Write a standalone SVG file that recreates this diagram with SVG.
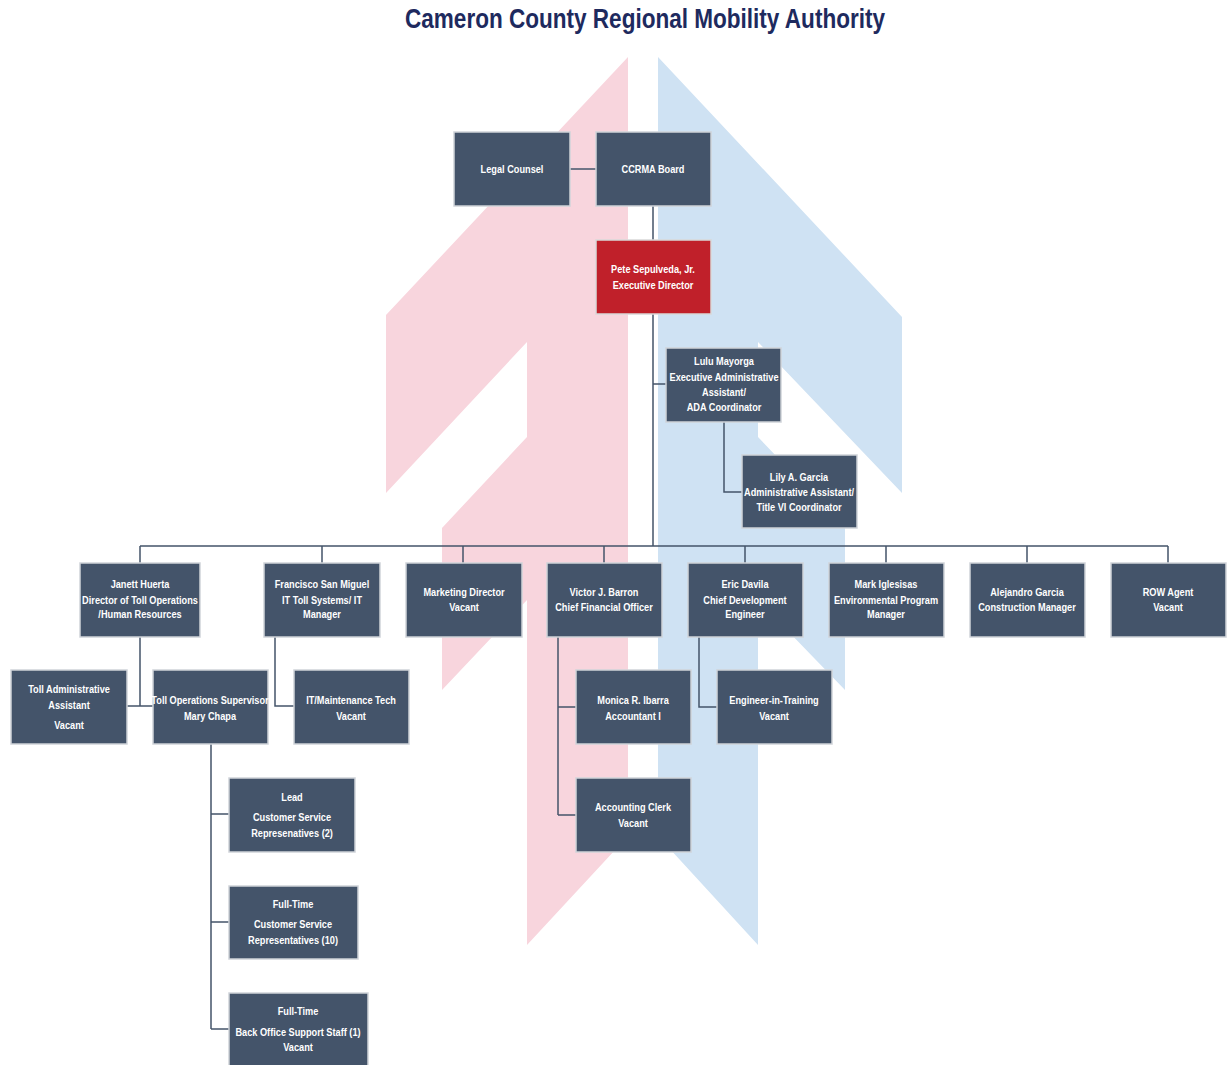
<svg xmlns="http://www.w3.org/2000/svg" width="1227" height="1065" viewBox="0 0 1227 1065">
<style>
.bx{fill:#44546a;stroke:#cfd3d9;stroke-width:1.5}
.red{fill:#c0202a;stroke:#d9d9d9;stroke-width:1.5}
.t{font-family:"Liberation Sans",Arial,sans-serif;font-weight:bold;font-size:11.5px;fill:#ffffff;text-anchor:middle}
.ln{fill:none;stroke:#44546a;stroke-width:1.5}
.title{font-family:"Liberation Sans",Arial,sans-serif;font-weight:bold;font-size:27px;fill:#1e2a5e;text-anchor:middle}
</style>
<rect width="1227" height="1065" fill="#ffffff"/>
<g id="background">
<polygon fill="#f8d5dd" points="628,57 386,315 386,493 527,342 527,437 442,528 442,690 527,600 527,945 628,836"/>
<polygon fill="#cfe2f3" points="658,57 902,317 902,493 758,342 758,437 845,528 845,690 758,600 758,945 658,836"/>
</g>
<text class="title" x="645" y="28" textLength="480" lengthAdjust="spacingAndGlyphs">Cameron County Regional Mobility Authority</text>
<g id="connectors">
<path class="ln" d="M570,169H596" stroke="#333"/>
<path class="ln" d="M653,206V240M653,314V546M653,384H666M724,422V492H742"/>
<path class="ln" d="M140,546H1168M140,546V563M322,546V563M463,546V563M604,546V563M745,546V563M886,546V563M1027,546V563M1168,546V563"/>
<path class="ln" d="M140,637V706M127,706H153"/>
<path class="ln" d="M275,637V706H294"/>
<path class="ln" d="M558,637V815M558,707H576M558,815H576"/>
<path class="ln" d="M699,637V707H717"/>
<path class="ln" d="M211,744V1029M211,814H229M211,922H229M211,1029H229"/>
</g>
<g id="legal"><rect class="bx" x="454" y="132" width="116" height="74"/><text class="t" transform="translate(512 0) scale(0.8 1)"><tspan x="0" y="173">Legal Counsel</tspan></text></g>
<g id="board"><rect class="bx" x="596" y="132" width="115" height="74"/><text class="t" transform="translate(653 0) scale(0.8 1)"><tspan x="0" y="173">CCRMA Board</tspan></text></g>
<g id="pete"><rect class="red" x="596" y="240" width="115" height="74"/><text class="t" transform="translate(653 0) scale(0.8 1)"><tspan x="0" y="273">Pete Sepulveda, Jr.</tspan><tspan x="0" y="289">Executive Director</tspan></text></g>
<g id="lulu"><rect class="bx" x="666" y="348" width="115" height="74"/><text class="t" transform="translate(724 0) scale(0.8 1)"><tspan x="0" y="365">Lulu Mayorga</tspan><tspan x="0" y="381">Executive Administrative</tspan><tspan x="0" y="396">Assistant/</tspan><tspan x="0" y="411">ADA Coordinator</tspan></text></g>
<g id="lily"><rect class="bx" x="742" y="455" width="115" height="73"/><text class="t" transform="translate(799 0) scale(0.8 1)"><tspan x="0" y="481">Lily A. Garcia</tspan><tspan x="0" y="496">Administrative Assistant/</tspan><tspan x="0" y="511">Title VI Coordinator</tspan></text></g>
<g id="janett"><rect class="bx" x="80" y="563" width="120" height="74"/><text class="t" transform="translate(140 0) scale(0.8 1)"><tspan x="0" y="588">Janett Huerta</tspan><tspan x="0" y="604">Director of Toll Operations</tspan><tspan x="0" y="618">/Human Resources</tspan></text></g>
<g id="francisco"><rect class="bx" x="264" y="563" width="116" height="74"/><text class="t" transform="translate(322 0) scale(0.8 1)"><tspan x="0" y="588">Francisco San Miguel</tspan><tspan x="0" y="604">IT Toll Systems/ IT</tspan><tspan x="0" y="618">Manager</tspan></text></g>
<g id="marketing"><rect class="bx" x="406" y="563" width="116" height="74"/><text class="t" transform="translate(464 0) scale(0.8 1)"><tspan x="0" y="596">Marketing Director</tspan><tspan x="0" y="611">Vacant</tspan></text></g>
<g id="victor"><rect class="bx" x="547" y="563" width="115" height="74"/><text class="t" transform="translate(604 0) scale(0.8 1)"><tspan x="0" y="596">Victor J. Barron</tspan><tspan x="0" y="611">Chief Financial Officer</tspan></text></g>
<g id="eric"><rect class="bx" x="688" y="563" width="115" height="74"/><text class="t" transform="translate(745 0) scale(0.8 1)"><tspan x="0" y="588">Eric Davila</tspan><tspan x="0" y="604">Chief Development</tspan><tspan x="0" y="618">Engineer</tspan></text></g>
<g id="mark"><rect class="bx" x="829" y="563" width="115" height="74"/><text class="t" transform="translate(886 0) scale(0.8 1)"><tspan x="0" y="588">Mark Iglesisas</tspan><tspan x="0" y="604">Environmental Program</tspan><tspan x="0" y="618">Manager</tspan></text></g>
<g id="alejandro"><rect class="bx" x="970" y="563" width="115" height="74"/><text class="t" transform="translate(1027 0) scale(0.8 1)"><tspan x="0" y="596">Alejandro Garcia</tspan><tspan x="0" y="611">Construction Manager</tspan></text></g>
<g id="row"><rect class="bx" x="1111" y="563" width="115" height="74"/><text class="t" transform="translate(1168 0) scale(0.8 1)"><tspan x="0" y="596">ROW Agent</tspan><tspan x="0" y="611">Vacant</tspan></text></g>
<g id="tolladmin"><rect class="bx" x="11" y="670" width="116" height="74"/><text class="t" transform="translate(69 0) scale(0.8 1)"><tspan x="0" y="693">Toll Administrative</tspan><tspan x="0" y="709">Assistant</tspan><tspan x="0" y="729">Vacant</tspan></text></g>
<g id="tollsup"><rect class="bx" x="153" y="670" width="115" height="74"/><text class="t" transform="translate(210 0) scale(0.8 1)"><tspan x="0" y="704">Toll Operations Supervisor</tspan><tspan x="0" y="720">Mary Chapa</tspan></text></g>
<g id="itmaint"><rect class="bx" x="294" y="670" width="115" height="74"/><text class="t" transform="translate(351 0) scale(0.8 1)"><tspan x="0" y="704">IT/Maintenance Tech</tspan><tspan x="0" y="720">Vacant</tspan></text></g>
<g id="monica"><rect class="bx" x="576" y="670" width="115" height="74"/><text class="t" transform="translate(633 0) scale(0.8 1)"><tspan x="0" y="704">Monica R. Ibarra</tspan><tspan x="0" y="720">Accountant I</tspan></text></g>
<g id="eit"><rect class="bx" x="717" y="670" width="115" height="74"/><text class="t" transform="translate(774 0) scale(0.8 1)"><tspan x="0" y="704">Engineer-in-Training</tspan><tspan x="0" y="720">Vacant</tspan></text></g>
<g id="clerk"><rect class="bx" x="576" y="778" width="115" height="74"/><text class="t" transform="translate(633 0) scale(0.8 1)"><tspan x="0" y="811">Accounting Clerk</tspan><tspan x="0" y="827">Vacant</tspan></text></g>
<g id="lead"><rect class="bx" x="229" y="778" width="126" height="74"/><text class="t" transform="translate(292 0) scale(0.8 1)"><tspan x="0" y="801">Lead</tspan><tspan x="0" y="821">Customer Service</tspan><tspan x="0" y="837">Represenatives (2)</tspan></text></g>
<g id="ftcsr"><rect class="bx" x="229" y="886" width="129" height="73"/><text class="t" transform="translate(293 0) scale(0.8 1)"><tspan x="0" y="908">Full-Time</tspan><tspan x="0" y="928">Customer Service</tspan><tspan x="0" y="944">Representatives (10)</tspan></text></g>
<g id="backoffice"><rect class="bx" x="229" y="993" width="139" height="74"/><text class="t" transform="translate(298 0) scale(0.8 1)"><tspan x="0" y="1015">Full-Time</tspan><tspan x="0" y="1036">Back Office Support Staff (1)</tspan><tspan x="0" y="1051">Vacant</tspan></text></g>
</svg>
